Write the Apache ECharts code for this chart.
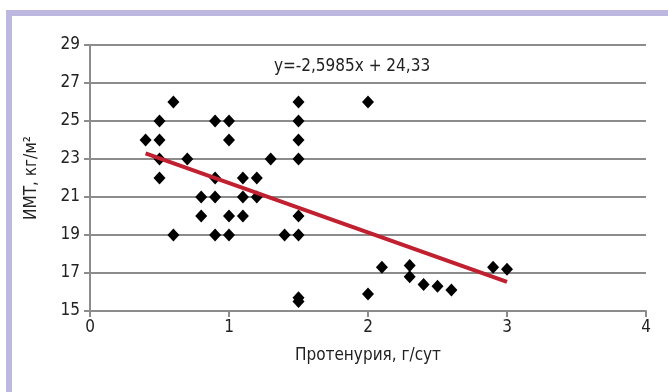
<!DOCTYPE html>
<html>
<head>
<meta charset="utf-8">
<script src="https://cdn.jsdelivr.net/npm/echarts@6/dist/echarts.min.js"></script>
<style>
html,body{margin:0;padding:0;background:#fff;}
#chart{width:668px;height:392px;}
</style>
</head>
<body>
<div id="chart"></div>
<script>
// точки: протеинурия (г/сут) и ИМТ
var proteinX = [0.6,0.5,0.9,1.0,0.4,0.5,1.0,0.5,0.7,1.3,0.5,0.9,1.1,1.2,0.8,0.9,1.1,1.2,0.8,1.0,1.1,
	0.6,0.9,1.0,1.4,1.5,1.5,1.5,1.5,1.5,1.5,2.0,2.1,2.3,2.3,2.4,2.5,2.6,2.0,1.5,1.5,2.9,3.0];
var bmiY = [26,25,25,25,24,24,24,23,23,23,22,22,22,22,21,21,21,21,20,20,20,
	19,19,19,19,19,26,25,24,23,20,26,17.3,17.4,16.8,16.4,16.3,16.1,15.9,15.7,15.5,17.3,17.2];
// линия тренда y = a*x + b
var trendA = -2.5985;
var trendB = 24.33;
var trendX = [0.4, 3.0];
var trendText = 'y=-2,5985x + 24,33';
var xTicks = [0, 4, 1];
var yTicks = [15, 29, 2];

var font = "'Liberation Sans Narrow', 'DejaVu Sans Condensed', sans-serif";
var pts = proteinX.map(function(x, i){ return [x, bmiY[i]]; });
var trend = trendX.map(function(x){ return [x, trendA * x + trendB]; });

var myChart = echarts.init(document.getElementById('chart'));
var option = {
	backgroundColor: '#fff',
	animation: false,
	graphic: [
		{type:'rect', shape:{x:6, y:10, width:662, height:6}, style:{fill:'#bdb8df'}},
		{type:'rect', shape:{x:6, y:10, width:6, height:382}, style:{fill:'#bdb8df'}},
		{type:'text', x:352, y:67, style:{text:trendText, fill:'#222', font:'17px ' + font, textAlign:'center', textVerticalAlign:'middle'}}
	],
	grid: {left:90, right:22, top:45, bottom:81},
	xAxis: {
		type:'value', min:xTicks[0], max:xTicks[1], interval:xTicks[2],
		name:'Протенурия, г/сут', nameLocation:'middle', nameGap:36,
		nameTextStyle:{fontFamily:font, fontSize:17, color:'#222'},
		axisLine:{show:true, lineStyle:{color:'#8c8c8c', width:2}},
		axisTick:{show:true, length:6, lineStyle:{color:'#8c8c8c', width:2}},
		axisLabel:{fontFamily:font, fontSize:17, color:'#222', margin:8},
		splitLine:{show:false}
	},
	yAxis: {
		type:'value', min:yTicks[0], max:yTicks[1], interval:yTicks[2],
		name:'ИМТ, кг/м²', nameLocation:'middle', nameGap:50, nameRotate:90,
		nameTextStyle:{fontFamily:font, fontSize:17, color:'#222'},
		axisLine:{show:true, lineStyle:{color:'#8c8c8c', width:2}},
		axisTick:{show:true, length:6, lineStyle:{color:'#8c8c8c', width:2}},
		axisLabel:{fontFamily:font, fontSize:17, color:'#222', margin:10},
		splitLine:{show:true, lineStyle:{color:'#8c8c8c', width:2}}
	},
	series: [
		{
			type:'scatter', data:pts, symbol:'diamond', symbolSize:[12,13], z:3,
			itemStyle:{color:'#000', opacity:1}
		},
		{
			type:'line', data:trend, symbol:'none', z:4,
			lineStyle:{color:'#c0202f', width:4}
		}
	]
};
myChart.setOption(option);
</script>
</body>
</html>
